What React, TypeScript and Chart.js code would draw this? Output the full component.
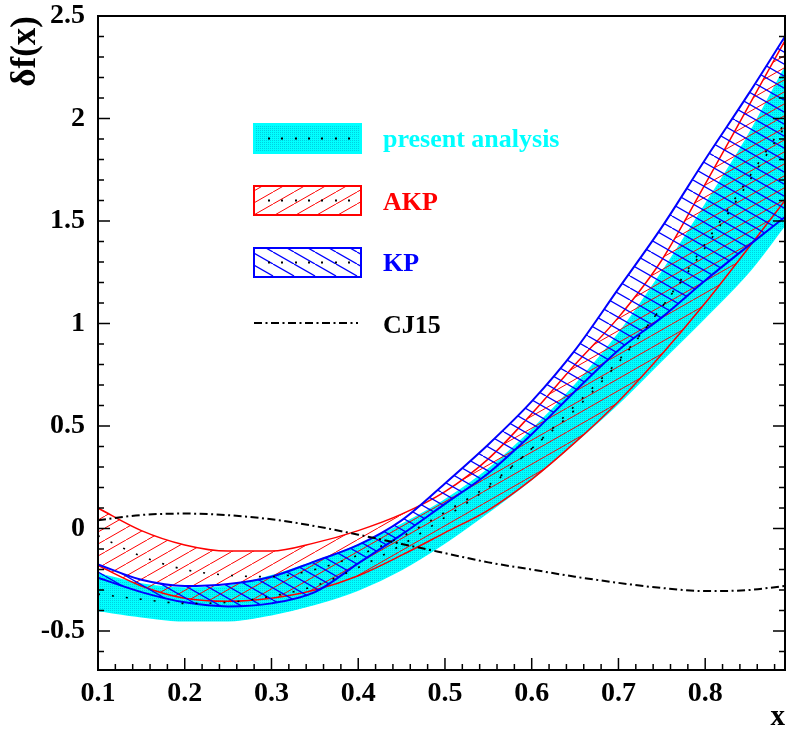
import React, { useEffect, useRef } from 'react';
import { Chart, registerables } from 'chart.js';

Chart.register(...registerables);

// ---------- data ----------
const xs = [0.1, 0.15, 0.2, 0.25, 0.3, 0.35, 0.4, 0.45, 0.5, 0.55, 0.6, 0.65, 0.7, 0.75, 0.8, 0.85, 0.892];

const presentUpper = [-0.22, -0.27, -0.29, -0.28, -0.23, -0.16, -0.08, 0.02, 0.14, 0.29, 0.48, 0.7, 0.95, 1.25, 1.58, 1.92, 2.25];
const presentLower = [-0.4, -0.43, -0.45, -0.45, -0.42, -0.37, -0.3, -0.2, -0.07, 0.08, 0.24, 0.42, 0.61, 0.82, 1.03, 1.25, 1.48];
const presentCentral = [-0.32, -0.345, -0.365, -0.36, -0.33, -0.28, -0.19, -0.08, 0.055, 0.2, 0.39, 0.58, 0.81, 1.08, 1.37, 1.69, 1.96];

const akpUpper = [0.1, -0.01, -0.08, -0.11, -0.11, -0.07, -0.01, 0.07, 0.18, 0.34, 0.56, 0.8, 1.03, 1.31, 1.68, 2.06, 2.38];
const akpLower = [-0.18, -0.28, -0.34, -0.355, -0.34, -0.3, -0.23, -0.13, -0.02, 0.09, 0.24, 0.42, 0.62, 0.85, 1.1, 1.37, 1.6];
const akpCentral = [-0.035, -0.135, -0.2, -0.228, -0.235, -0.2, -0.13, -0.04, 0.08, 0.21, 0.39, 0.6, 0.82, 1.08, 1.39, 1.71, 1.98];

const kpUpper = [-0.175, -0.25, -0.28, -0.27, -0.235, -0.16, -0.08, 0.04, 0.22, 0.41, 0.62, 0.87, 1.17, 1.47, 1.8, 2.12, 2.4];
const kpLower = [-0.24, -0.31, -0.36, -0.38, -0.365, -0.31, -0.17, -0.03, 0.12, 0.27, 0.46, 0.67, 0.87, 1.03, 1.21, 1.38, 1.52];

const cj15 = [0.04, 0.066, 0.073, 0.065, 0.045, 0.012, -0.03, -0.075, -0.12, -0.165, -0.2, -0.235, -0.265, -0.29, -0.305, -0.3, -0.28];

const xTicks = [0.1, 0.2, 0.3, 0.4, 0.5, 0.6, 0.7, 0.8];
const yTicks = [-0.5, 0, 0.5, 1, 1.5, 2, 2.5];
const legendLabels = ['present analysis', 'AKP', 'KP', 'CJ15'];
const xTitle = 'x';
const yTitle = 'δf(x)';

const X_MIN = 0.1;
const X_MAX = 0.892;
const Y_MIN = -0.69;
const Y_MAX = 2.5;

const FONT = 'Liberation Serif';

function makeHatch(color: string, dir: '/' | '\\', lw: number) {
  const W = 21, H = 12;
  const c = document.createElement('canvas');
  c.width = W; c.height = H;
  const g = c.getContext('2d')!;
  g.strokeStyle = color;
  g.lineWidth = lw;
  for (const off of [-W, 0, W]) {
    g.beginPath();
    if (dir === '/') { g.moveTo(off, H); g.lineTo(off + W, 0); }
    else { g.moveTo(off, 0); g.lineTo(off + W, H); }
    g.stroke();
  }
  return g.createPattern(c, 'repeat')!;
}

function makeCyan() {
  const c = document.createElement('canvas');
  c.width = 2; c.height = 2;
  const g = c.getContext('2d')!;
  g.fillStyle = '#00ffff';
  g.fillRect(0, 0, 2, 2);
  g.fillStyle = '#00cfe0';
  g.fillRect(0, 0, 1, 1);
  return g.createPattern(c, 'repeat')!;
}

const pts = (ys: number[]) => xs.map((x, i) => ({ x, y: ys[i] }));

export default function App() {
  const ref = useRef<HTMLCanvasElement | null>(null);

  useEffect(() => {
    document.body.style.margin = '0';
    const canvas = ref.current!;
    const cyanPat = makeCyan();
    const redPat = makeHatch('#ff0000', '/', 1);
    const bluePat = makeHatch('#0000ff', '\\', 1.3);

    const framePlugin = {
      id: 'rootFrame',
      afterDraw(chart: any) {
        const { ctx, chartArea: a, scales } = chart;
        const sx = scales.x, sy = scales.y;
        ctx.save();
        ctx.strokeStyle = '#000';
        ctx.lineWidth = 1.5;
        for (let k = 5; k <= 44; k++) {
          const v = k / 50;
          const px = sx.getPixelForValue(v);
          const len = k % 5 === 0 ? 12 : 6;
          ctx.beginPath();
          ctx.moveTo(px, a.bottom);
          ctx.lineTo(px, a.bottom - len);
          ctx.stroke();
        }
        for (let k = -6; k <= 25; k++) {
          const v = k / 10;
          const py = sy.getPixelForValue(v);
          const len = k % 5 === 0 ? 12 : 6;
          ctx.beginPath();
          ctx.moveTo(a.left, py);
          ctx.lineTo(a.left + len, py);
          ctx.moveTo(a.right, py);
          ctx.lineTo(a.right - len, py);
          ctx.stroke();
        }
        ctx.lineWidth = 2;
        ctx.strokeRect(a.left, a.top, a.right - a.left, a.bottom - a.top);
        ctx.restore();
      },
    };

    const legendPlugin = {
      id: 'rootLegend',
      afterDatasetsDraw(chart: any) {
        const ctx = chart.ctx;
        const boxL = 254, boxW = 107, boxH = 29, textX = 383;
        const items = [
          { top: 124, fill: cyanPat, stroke: '#00ffff', color: '#00ffff', text: legendLabels[0], base: 147 },
          { top: 186, fill: redPat, stroke: '#ff0000', color: '#ff0000', text: legendLabels[1], base: 210 },
          { top: 248, fill: bluePat, stroke: '#0000ff', color: '#0000ff', text: legendLabels[2], base: 271 },
        ];
        ctx.save();
        ctx.font = `bold 26px "${FONT}"`;
        ctx.textBaseline = 'alphabetic';
        ctx.textAlign = 'left';
        items.forEach((it) => {
          ctx.fillStyle = it.fill;
          ctx.fillRect(boxL, it.top, boxW, boxH);
          ctx.lineWidth = 2;
          ctx.strokeStyle = it.stroke;
          ctx.strokeRect(boxL, it.top, boxW, boxH);
          ctx.fillStyle = '#000';
          for (let x = boxL + 14; x < boxL + boxW - 4; x += 13.3) {
            ctx.fillRect(Math.round(x), it.top + boxH / 2 - 1, 2, 2);
          }
          ctx.fillStyle = it.color;
          ctx.fillText(it.text, textX, it.base);
        });
        ctx.setLineDash([8, 3.5, 2, 3.5]);
        ctx.lineWidth = 2;
        ctx.strokeStyle = '#000';
        ctx.beginPath();
        ctx.moveTo(254, 323);
        ctx.lineTo(358, 323);
        ctx.stroke();
        ctx.setLineDash([]);
        ctx.fillStyle = '#000';
        ctx.fillText(legendLabels[3], textX, 333);
        ctx.restore();
      },
    };

    const line = (ys: number[], color: string, width: number, extra: any = {}) => ({
      data: pts(ys),
      borderColor: color,
      borderWidth: width,
      pointRadius: 0,
      cubicInterpolationMode: 'monotone',
      fill: false,
      ...extra,
    });

    const chart = new Chart(canvas, {
      type: 'line',
      data: {
        datasets: [
          line(presentUpper, '#00ffff', 1.5, { fill: '+1', backgroundColor: cyanPat, order: 10 }),
          line(presentLower, '#00ffff', 1.5, { order: 10 }),
          line(akpUpper, '#ff0000', 1.5, { fill: '+1', backgroundColor: redPat, order: 8 }),
          line(akpLower, '#ff0000', 1.5, { order: 8 }),
          line(kpUpper, '#0000ff', 2, { fill: '+1', backgroundColor: bluePat, order: 6 }),
          line(kpLower, '#0000ff', 2, { order: 6 }),
          line(presentCentral, '#000', 1.6, { borderDash: [2, 12], order: 4 }),
          line(akpCentral, '#000', 1.6, { borderDash: [2, 12], order: 4 }),
          line(cj15, '#000', 2, { borderDash: [8, 3.5, 2, 3.5], order: 2 }),
        ] as any,
      },
      options: {
        animation: false,
        responsive: false,
        devicePixelRatio: 1,
        layout: { padding: { top: 16, right: 1, left: 0, bottom: 0 } },
        plugins: { legend: { display: false }, tooltip: { enabled: false } },
        elements: { line: { tension: 0.4 } },
        scales: {
          x: {
            type: 'linear',
            min: X_MIN,
            max: X_MAX,
            grid: { display: false, drawTicks: false },
            border: { display: false },
            ticks: {
              font: { family: FONT, weight: 'bold', size: 28 },
              color: '#000',
              padding: 7,
              maxRotation: 0,
              autoSkip: false,
              callback: (v: any) => Number(v).toFixed(1),
            },
            afterBuildTicks: (s: any) => { s.ticks = xTicks.map((v) => ({ value: v })); },
            afterFit: (s: any) => { s.height = 65; s.paddingLeft = 0; s.paddingRight = 0; },
            title: {
              display: true,
              text: xTitle,
              align: 'end',
              color: '#000',
              font: { family: FONT, weight: 'bold', size: 29 },
              padding: { top: 0, bottom: 0 },
            },
          },
          y: {
            type: 'linear',
            min: Y_MIN,
            max: Y_MAX,
            grid: { display: false, drawTicks: false },
            border: { display: false },
            ticks: {
              font: { family: FONT, weight: 'bold', size: 28 },
              color: '#000',
              padding: 13,
              autoSkip: false,
              callback: (v: any) => String(v),
            },
            afterBuildTicks: (s: any) => { s.ticks = yTicks.map((v) => ({ value: v })); },
            afterFit: (s: any) => { s.width = 98; s.paddingTop = 0; s.paddingBottom = 0; },
            title: {
              display: true,
              text: yTitle,
              align: 'end',
              color: '#000',
              font: { family: FONT, weight: 'bold', size: 35 },
              padding: { top: 5, bottom: 0 },
            },
          },
        },
      } as any,
      plugins: [framePlugin, legendPlugin],
    });
    return () => chart.destroy();
  }, []);

  return <canvas ref={ref} width={786} height={735} style={{ display: 'block' }} />;
}
